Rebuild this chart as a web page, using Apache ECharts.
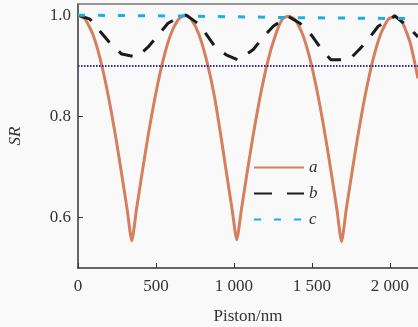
<!DOCTYPE html>
<html>
<head>
<meta charset="utf-8">
<script src="https://cdn.jsdelivr.net/npm/echarts@6/dist/echarts.min.js"></script>
<style>
  html, body { margin: 0; padding: 0; background: #f9f9f9; }
  #chart { width: 418px; height: 327px; }
</style>
</head>
<body>
<div id="chart"></div>
<script>
// curve a: solid orange
const xA = [0, 45, 95, 145, 195, 245, 285, 315, 345, 375, 405, 445, 495, 545, 595, 645, 685,
  725, 775, 825, 875, 920, 958, 988, 1018, 1048, 1078, 1118, 1168, 1218, 1268, 1310, 1348,
  1390, 1440, 1490, 1540, 1590, 1630, 1660, 1690, 1720, 1750, 1790, 1840, 1890, 1940, 1990, 2032,
  2080, 2130, 2180];
const yA = [1.0, 0.992, 0.962, 0.910, 0.839, 0.753, 0.676, 0.616, 0.554, 0.616, 0.676, 0.753, 0.839, 0.910, 0.962, 0.992, 1.0,
  0.992, 0.962, 0.910, 0.839, 0.753, 0.676, 0.616, 0.556, 0.616, 0.676, 0.753, 0.839, 0.910, 0.962, 0.992, 0.998,
  0.992, 0.962, 0.910, 0.839, 0.753, 0.676, 0.616, 0.552, 0.616, 0.676, 0.753, 0.839, 0.910, 0.962, 0.992, 0.997,
  0.985, 0.945, 0.875];

// curve b: black dashed
const xB = [0, 77, 152, 205, 280, 376, 450, 513, 577, 665, 695, 780, 880, 953, 1030, 1124, 1188, 1252,
  1345, 1423, 1498, 1551, 1620, 1740, 1803, 1861, 1925, 2011, 2030, 2096, 2149, 2180];
const yB = [1.0, 0.992, 0.964, 0.945, 0.923, 0.917, 0.937, 0.960, 0.984, 0.999, 1.0, 0.981, 0.937, 0.921, 0.911, 0.932, 0.957, 0.978,
  0.998, 0.984, 0.960, 0.937, 0.912, 0.912, 0.932, 0.952, 0.978, 0.993, 0.999, 0.982, 0.967, 0.957];

// curve c: cyan dotted
const xC = [0, 700, 1400, 2180];
const yC = [1.0, 0.998, 0.995, 0.993];

const threshold = 0.9;
const xTicks = [0, 500, 1000, 1500, 2000];
const yTicks = [0.6, 0.8, 1.0];
const names = ['a', 'b', 'c'];

const zip = (xs, ys) => xs.map((x, i) => [x, ys[i]]);
const serif = '"Liberation Serif", "DejaVu Serif", serif';

const chart = echarts.init(document.getElementById('chart'));

chart.setOption({
  backgroundColor: '#f9f9f9',
  animation: false,
  grid: { left: 78, right: 0, top: 4, bottom: 59, outerBoundsMode: 'none' },
  legend: {
    orient: 'vertical',
    left: 248,
    top: 154,
    itemWidth: 50,
    itemHeight: 14,
    itemGap: 9,
    itemStyle: { opacity: 0 },
    textStyle: { fontFamily: serif, fontStyle: 'italic', fontSize: 17, color: '#333' },
    data: [
      { name: 'a' },
      { name: 'b', lineStyle: { type: [18, 15] } },
      { name: 'c', lineStyle: { type: [7, 13] } }
    ]
  },
  xAxis: [{
    type: 'value',
    min: 0,
    max: 2180,
    name: 'Piston/nm',
    nameLocation: 'middle',
    nameGap: 40,
    nameTextStyle: { fontFamily: serif, fontSize: 17, color: '#333' },
    axisLine: { lineStyle: { color: '#333', width: 1.5 } },
    axisTick: { inside: true, length: 5, customValues: xTicks, lineStyle: { color: '#333' } },
    axisLabel: {
      customValues: xTicks,
      margin: 10,
      fontFamily: serif,
      fontSize: 17,
      color: '#333',
      formatter: v => String(v).replace(/\B(?=(\d{3})+(?!\d))/g, ' ')
    },
    splitLine: { show: false }
  }, {
    type: 'value',
    position: 'top',
    min: 0,
    max: 2180,
    axisLine: { show: true, lineStyle: { color: '#777', width: 1.5 } },
    axisTick: { show: false },
    axisLabel: { show: false },
    splitLine: { show: false }
  }],
  yAxis: {
    type: 'value',
    min: 0.5,
    max: 1.022,
    name: 'SR',
    nameLocation: 'middle',
    nameGap: 54,
    nameTextStyle: { fontFamily: serif, fontStyle: 'italic', fontSize: 17, color: '#333' },
    axisLine: { show: true, lineStyle: { color: '#333', width: 1.5 } },
    axisTick: { inside: true, length: 5, customValues: yTicks, lineStyle: { color: '#333' } },
    axisLabel: {
      customValues: yTicks,
      margin: 7,
      fontFamily: serif,
      fontSize: 17,
      color: '#333',
      formatter: v => v.toFixed(1)
    },
    splitLine: { show: false }
  },
  series: [
    {
      name: names[0],
      type: 'line',
      data: zip(xA, yA),
      symbol: 'none',
      smooth: 0.2,
      lineStyle: { color: '#d4805f', width: 3 },
      itemStyle: { color: '#d4805f' },
      z: 3,
      markLine: {
        silent: true,
        symbol: 'none',
        label: { show: false },
        lineStyle: { color: '#2b2b9c', width: 2, type: [1.5, 1.5] },
        data: [{ yAxis: threshold }]
      }
    },
    {
      name: names[1],
      type: 'line',
      data: zip(xB, yB),
      symbol: 'none',
      lineStyle: { color: '#1a1a1a', width: 3, type: [15, 13] },
      itemStyle: { color: '#1a1a1a' },
      z: 4
    },
    {
      name: names[2],
      type: 'line',
      data: zip(xC, yC),
      symbol: 'none',
      lineStyle: { color: '#19b0ea', width: 3, type: [7, 13] },
      itemStyle: { color: '#19b0ea' },
      z: 5
    }
  ]
});
</script>
</body>
</html>
